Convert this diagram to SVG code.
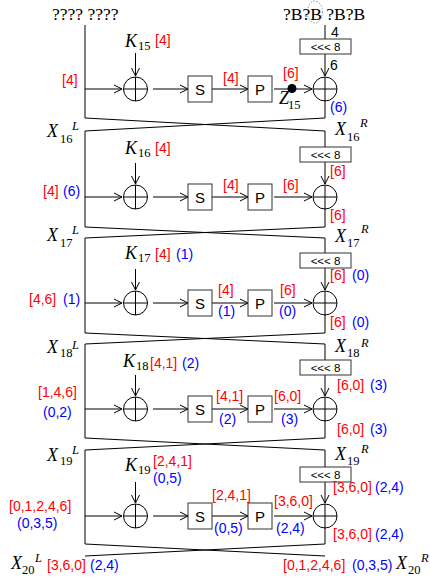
<svg xmlns="http://www.w3.org/2000/svg" width="430" height="578" viewBox="0 0 430 578">
<style>
.ln{stroke:#000;stroke-width:1;fill:none}
.ar{marker-end:url(#ah)}
.bx{fill:#fff;stroke:#333;stroke-width:1}
.r{fill:#f00;font-family:"Liberation Sans",Arial,sans-serif;font-size:14px}
.b{fill:#00f;font-family:"Liberation Sans",Arial,sans-serif;font-size:14px}
.k{fill:#000;font-family:"Liberation Sans",Arial,sans-serif;font-size:14px}
.sp{fill:#000;font-family:"Liberation Sans",Arial,sans-serif;font-size:15px}
.rt{fill:#000;font-family:"Liberation Sans",Arial,sans-serif;font-size:11.5px}
.v{fill:#000;font-family:"Liberation Serif","Times New Roman",serif;font-size:18px;font-style:italic}
.vs{fill:#000;font-family:"Liberation Serif","Times New Roman",serif;font-size:12.5px}
.vi{fill:#000;font-family:"Liberation Serif","Times New Roman",serif;font-size:12.5px;font-style:italic}
.hd{fill:#000;font-family:"Liberation Serif","Times New Roman",serif;font-size:17.5px}
</style>
<defs>
<marker id="ah" viewBox="0 0 10 10" refX="9" refY="5" markerWidth="10" markerHeight="10" markerUnits="userSpaceOnUse" orient="auto">
<path d="M1,1 L9,5 L1,9" fill="none" stroke="#000" stroke-width="1"/>
</marker>
<g id="xor"><circle cx="0" cy="0" r="12" fill="#fff" stroke="#000"/><path d="M-12,0 H12 M0,-12 V12" stroke="#000" fill="none"/></g>
<g id="rot"><rect x="300" y="0" width="51" height="15" class="bx"/><text x="325.5" y="11.5" class="rt" text-anchor="middle">&lt;&lt;&lt; 8</text></g>
</defs>
<rect width="430" height="578" fill="#fff"/>

<g id="connectors">
<!-- round 15 -->
<path class="ln" d="M85,25 V118 M85,118 L325,131 M325,118 L85,131"/>
<path class="ln ar" d="M85,89 H122"/>
<path class="ln ar" d="M135.5,53 V76"/>
<path class="ln ar" d="M153,89 H188"/>
<path class="ln ar" d="M212,89 H248"/>
<path class="ln ar" d="M274,89 H312"/>
<path class="ln" d="M325,25 V39"/>
<path class="ln ar" d="M325,54 V76"/>
<path class="ln" d="M325,101 V118"/>
<!-- round 16 -->
<path class="ln" d="M85,131 V227 M85,227 L325,238 M325,227 L85,238"/>
<path class="ln ar" d="M85,197 H122"/>
<path class="ln ar" d="M135.5,163 V184"/>
<path class="ln ar" d="M153,197 H188"/>
<path class="ln ar" d="M212,197 H248"/>
<path class="ln ar" d="M274,197 H312"/>
<path class="ln" d="M325,131 V147"/>
<path class="ln ar" d="M325,162 V184"/>
<path class="ln" d="M325,209 V227"/>
<!-- round 17 -->
<path class="ln" d="M85,238 V333 M85,333 L325,344 M325,333 L85,344"/>
<path class="ln ar" d="M85,303 H122"/>
<path class="ln ar" d="M135.5,269 V290"/>
<path class="ln ar" d="M153,303 H188"/>
<path class="ln ar" d="M212,303 H248"/>
<path class="ln ar" d="M274,303 H312"/>
<path class="ln" d="M325,238 V253"/>
<path class="ln ar" d="M325,268 V290"/>
<path class="ln" d="M325,315 V333"/>
<!-- round 18 -->
<path class="ln" d="M85,344 V438 M85,438 L325,450 M325,438 L85,450"/>
<path class="ln ar" d="M85,409 H122"/>
<path class="ln ar" d="M135.5,375 V396"/>
<path class="ln ar" d="M153,409 H188"/>
<path class="ln ar" d="M212,409 H248"/>
<path class="ln ar" d="M274,409 H312"/>
<path class="ln" d="M325,344 V360"/>
<path class="ln ar" d="M325,375 V396"/>
<path class="ln" d="M325,421 V438"/>
<!-- round 19 -->
<path class="ln" d="M85,450 V544 M85,544 L325,556 M325,544 L85,556"/>
<path class="ln ar" d="M85,516 H122"/>
<path class="ln ar" d="M135.5,482 V503"/>
<path class="ln ar" d="M153,516 H188"/>
<path class="ln ar" d="M212,516 H248"/>
<path class="ln ar" d="M274,516 H312"/>
<path class="ln" d="M325,450 V467"/>
<path class="ln ar" d="M325,482 V503"/>
<path class="ln" d="M325,528 V544"/>
</g>

<g id="header">
<text x="52" y="20" class="hd">???? ????</text>
<text x="283" y="20" class="hd">?B?B ?B?B</text>
<ellipse cx="315" cy="12" rx="7.5" ry="11" fill="none" stroke="#777" stroke-width="0.8" stroke-dasharray="1.5,1.5"/>
<text x="331" y="37" class="k">4</text>
<text x="330" y="70" class="k">6</text>
</g>

<g id="round15">
<use href="#xor" x="135.5" y="89"/>
<rect x="188" y="76" width="24" height="26" class="bx"/><text x="200" y="94.5" class="sp" text-anchor="middle">S</text>
<rect x="248" y="76" width="24" height="26" class="bx"/><text x="260" y="94.5" class="sp" text-anchor="middle">P</text>
<use href="#xor" x="325" y="89"/>
<use href="#rot" y="39"/>
<circle cx="292" cy="88.5" r="4.5" fill="#000"/>
<text x="125" y="47" class="v">K</text><text x="138" y="50" class="vs">15</text>
<text x="155" y="45" class="r">[4]</text>
<text x="62" y="85" class="r">[4]</text>
<text x="223" y="83" class="r">[4]</text>
<text x="283" y="78" class="r">[6]</text>
<text x="279" y="104" class="v">Z</text><text x="288" y="109" class="vs">15</text>
<text x="330" y="112" class="b">(6)</text>
</g>

<g id="round16">
<text x="47" y="137" class="v">X</text><text x="60" y="143" class="vs">16</text><text x="72" y="130" class="vi">L</text>
<text x="335" y="135" class="v">X</text><text x="347" y="141" class="vs">16</text><text x="360" y="127" class="vi">R</text>
<use href="#xor" x="135.5" y="197"/>
<rect x="188" y="184" width="24" height="26" class="bx"/><text x="200" y="202.5" class="sp" text-anchor="middle">S</text>
<rect x="248" y="184" width="24" height="26" class="bx"/><text x="260" y="202.5" class="sp" text-anchor="middle">P</text>
<use href="#xor" x="325" y="197"/>
<use href="#rot" y="147"/>
<text x="125" y="154" class="v">K</text><text x="138" y="157" class="vs">16</text>
<text x="155" y="153" class="r">[4]</text>
<text x="43" y="196" class="r">[4]</text><text x="63" y="196" class="b">(6)</text>
<text x="223" y="190" class="r">[4]</text>
<text x="283" y="190" class="r">[6]</text>
<text x="330" y="176" class="r">[6]</text>
<text x="330" y="220" class="r">[6]</text>
</g>

<g id="round17">
<text x="47" y="241" class="v">X</text><text x="60" y="247" class="vs">17</text><text x="72" y="234" class="vi">L</text>
<text x="335" y="242" class="v">X</text><text x="347" y="247" class="vs">17</text><text x="361" y="233" class="vi">R</text>
<use href="#xor" x="135.5" y="303"/>
<rect x="188" y="290" width="24" height="26" class="bx"/><text x="200" y="308.5" class="sp" text-anchor="middle">S</text>
<rect x="248" y="290" width="24" height="26" class="bx"/><text x="260" y="308.5" class="sp" text-anchor="middle">P</text>
<use href="#xor" x="325" y="303"/>
<use href="#rot" y="253"/>
<text x="125" y="259" class="v">K</text><text x="138" y="262" class="vs">17</text>
<text x="155" y="259" class="r">[4]</text><text x="176" y="259" class="b">(1)</text>
<text x="29" y="304" class="r">[4,6]</text><text x="63" y="304" class="b">(1)</text>
<text x="218" y="295" class="r">[4]</text><text x="218" y="316" class="b">(1)</text>
<text x="280" y="295" class="r">[6]</text><text x="279" y="316" class="b">(0)</text>
<text x="330" y="280" class="r">[6]</text><text x="352" y="280" class="b">(0)</text>
<text x="330" y="327" class="r">[6]</text><text x="352" y="327" class="b">(0)</text>
</g>

<g id="round18">
<text x="47" y="353" class="v">X</text><text x="60" y="357" class="vs">18</text><text x="72" y="349" class="vi">L</text>
<text x="335" y="352" class="v">X</text><text x="347" y="357" class="vs">18</text><text x="361" y="347" class="vi">R</text>
<use href="#xor" x="135.5" y="409"/>
<rect x="188" y="396" width="24" height="26" class="bx"/><text x="200" y="414.5" class="sp" text-anchor="middle">S</text>
<rect x="248" y="396" width="24" height="26" class="bx"/><text x="260" y="414.5" class="sp" text-anchor="middle">P</text>
<use href="#xor" x="325" y="409"/>
<use href="#rot" y="360"/>
<text x="123" y="367" class="v">K</text><text x="136" y="370" class="vs">18</text>
<text x="150" y="368" class="r">[4,1]</text><text x="182" y="368" class="b">(2)</text>
<text x="38" y="397" class="r">[1,4,6]</text>
<text x="43" y="417" class="b">(0,2)</text>
<text x="216" y="401" class="r">[4,1]</text><text x="219" y="424" class="b">(2)</text>
<text x="274" y="401" class="r">[6,0]</text><text x="281" y="424" class="b">(3)</text>
<text x="337" y="390" class="r">[6,0]</text><text x="370" y="390" class="b">(3)</text>
<text x="337" y="434" class="r">[6,0]</text><text x="370" y="434" class="b">(3)</text>
</g>

<g id="round19">
<text x="47" y="461" class="v">X</text><text x="60" y="465" class="vs">19</text><text x="72" y="454" class="vi">L</text>
<text x="335" y="460" class="v">X</text><text x="347" y="465" class="vs">19</text><text x="361" y="453" class="vi">R</text>
<use href="#xor" x="135.5" y="516"/>
<rect x="188" y="503" width="24" height="26" class="bx"/><text x="200" y="521.5" class="sp" text-anchor="middle">S</text>
<rect x="248" y="503" width="24" height="26" class="bx"/><text x="260" y="521.5" class="sp" text-anchor="middle">P</text>
<use href="#xor" x="325" y="516"/>
<use href="#rot" y="467"/>
<text x="125" y="471" class="v">K</text><text x="138" y="474" class="vs">19</text>
<text x="153" y="466" class="r">[2,4,1]</text>
<text x="153" y="483" class="b">(0,5)</text>
<text x="9" y="511" class="r">[0,1,2,4,6]</text>
<text x="17" y="528" class="b">(0,3,5)</text>
<text x="212" y="500" class="r">[2,4,1]</text><text x="214" y="533" class="b">(0,5)</text>
<text x="274" y="506" class="r">[3,6,0]</text><text x="276" y="533" class="b">(2,4)</text>
<text x="333" y="492" class="r">[3,6,0]</text><text x="375" y="492" class="b">(2,4)</text>
<text x="333" y="539" class="r">[3,6,0]</text><text x="375" y="539" class="b">(2,4)</text>
</g>

<g id="output">
<text x="11" y="569" class="v">X</text><text x="22" y="574" class="vs">20</text><text x="35" y="562" class="vi">L</text>
<text x="47" y="570" class="r">[3,6,0]</text><text x="90" y="570" class="b">(2,4)</text>
<text x="283" y="570" class="r">[0,1,2,4,6]</text><text x="352" y="570" class="b">(0,3,5)</text>
<text x="396" y="569" class="v">X</text><text x="408" y="574" class="vs">20</text><text x="421" y="562" class="vi">R</text>
</g>
</svg>
